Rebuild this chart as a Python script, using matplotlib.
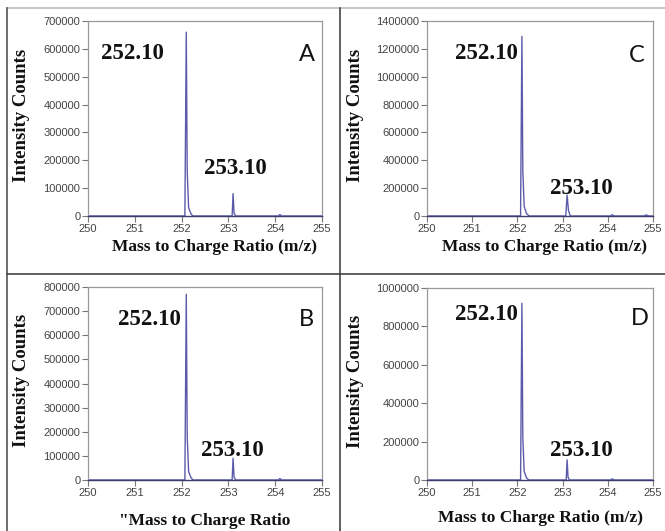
import matplotlib
matplotlib.use("Agg")
import matplotlib.pyplot as plt
from matplotlib.lines import Line2D

# m/z profile points and intensities for each panel
MZ_A = [250.0, 252.07, 252.10, 252.12, 252.15, 252.20, 252.24, 253.08, 253.10, 253.12, 253.15,
        254.06, 254.10, 254.14, 255.0]
INT_A = [0, 0, 660000, 160000, 30000, 8000, 0, 0, 80000, 12000, 0, 0, 5000, 0, 0]

MZ_B = [250.0, 252.07, 252.10, 252.12, 252.15, 252.20, 252.24, 253.08, 253.10, 253.12, 253.15,
        254.06, 254.10, 254.14, 255.0]
INT_B = [0, 0, 770000, 180000, 35000, 10000, 0, 0, 90000, 14000, 0, 0, 6000, 0, 0]

MZ_C = [250.0, 252.07, 252.10, 252.12, 252.15, 252.20, 252.26, 253.07, 253.10, 253.13, 253.17,
        254.06, 254.10, 254.14, 254.80, 254.85, 254.90, 255.0]
INT_C = [0, 0, 1290000, 320000, 70000, 18000, 0, 0, 150000, 40000, 0, 0, 10000, 0, 0, 8000, 0, 0]

MZ_D = [250.0, 252.07, 252.10, 252.12, 252.15, 252.20, 252.25, 253.08, 253.10, 253.12, 253.15,
        254.06, 254.10, 254.14, 255.0]
INT_D = [0, 0, 920000, 220000, 45000, 12000, 0, 0, 105000, 15000, 0, 0, 6000, 0, 0]

Y_MAX = {"A": 700000, "B": 800000, "C": 1400000, "D": 1000000}
Y_STEP = {"A": 100000, "B": 100000, "C": 200000, "D": 200000}
X_TICKS = [250, 251, 252, 253, 254, 255]

MAIN_LABEL = "252.10"
ISO_LABEL = "253.10"
X_LABELS = {
    "A": "Mass to Charge Ratio (m/z)",
    "B": "\"Mass to Charge Ratio",
    "C": "Mass to Charge Ratio (m/z)",
    "D": "Mass to Charge Ratio (m/z)",
}

LINE_COLOR = "#5b5bab"
SERIF = "Liberation Serif"

W, H = 665, 531


def fx(px):
    return px / W


def fy(py):
    return 1 - py / H


# axes boxes in pixels: left, top, right, bottom
BOXES = {
    "A": (88, 21, 322, 216),
    "C": (427, 21, 653, 216),
    "B": (88, 287, 322, 480),
    "D": (427, 288, 653, 480),
}

# label positions in axes fraction
LABEL_POS = {
    "A": ((0.192, 0.835), (0.628, 0.245), (0.935, 0.83)),
    "C": ((0.261, 0.835), (0.681, 0.14), (0.93, 0.825)),
    "B": ((0.261, 0.83), (0.615, 0.155), (0.935, 0.83)),
    "D": ((0.261, 0.86), (0.681, 0.155), (0.94, 0.84)),
}

# (x label centre x, centre y) and y label centre x, in pixels
XLABEL_PX = {"A": (215, 247), "C": (544, 247), "B": (205, 521), "D": (541, 518)}
YLABEL_PX = {"A": 22, "C": 356, "B": 22, "D": 356}

DATA = {"A": (MZ_A, INT_A), "B": (MZ_B, INT_B), "C": (MZ_C, INT_C), "D": (MZ_D, INT_D)}

fig = plt.figure(figsize=(6.65, 5.31), dpi=100)
fig.patch.set_facecolor("white")

for key in ["A", "C", "B", "D"]:
    l, t, r, b = BOXES[key]
    ax = fig.add_axes([fx(l), fy(b), fx(r) - fx(l), fy(t) - fy(b)])
    mz, inten = DATA[key]
    ax.plot(mz, inten, color=LINE_COLOR, lw=1.0)
    ax.set_xlim(250, 255)
    ax.set_ylim(0, Y_MAX[key])
    ax.set_xticks(X_TICKS)
    ax.set_yticks(range(0, Y_MAX[key] + 1, Y_STEP[key]))
    ax.ticklabel_format(style="plain", axis="y", useOffset=False)
    ax.tick_params(direction="out", length=4, width=0.8, color="#777777",
                   labelsize=8, labelcolor="#444444", pad=1.5)
    for lab in ax.get_xticklabels() + ax.get_yticklabels():
        lab.set_family("Liberation Sans")
    for side in ["top", "right", "left"]:
        ax.spines[side].set_color("#999999")
        ax.spines[side].set_linewidth(0.9)
    ax.spines["bottom"].set_color("#3a3a6e")
    ax.spines["bottom"].set_linewidth(1.0)

    (mx, my), (ix, iy), (lx, ly) = LABEL_POS[key]
    ax.text(mx, my, MAIN_LABEL, transform=ax.transAxes, ha="center", va="center",
            family=SERIF, weight="bold", fontsize=16.5, color="#111111")
    ax.text(ix, iy, ISO_LABEL, transform=ax.transAxes, ha="center", va="center",
            family=SERIF, weight="bold", fontsize=16.5, color="#111111")
    ax.text(lx, ly, key, transform=ax.transAxes, ha="center", va="center",
            family="Lato", fontsize=17, color="#111111")

    cx, cy = XLABEL_PX[key]
    fig.text(fx(cx), fy(cy), X_LABELS[key], ha="center", va="center",
             family=SERIF, weight="bold", fontsize=12.5, color="#111111")
    fig.text(fx(YLABEL_PX[key]), (fy(t) + fy(b)) / 2 + 0.005, "Intensity Counts",
             ha="center", va="center", rotation=90,
             family=SERIF, weight="bold", fontsize=13.5, color="#111111")

# panel frame lines
fig.add_artist(Line2D([fx(7), 1], [fy(8), fy(8)], color="#bbbbbb", lw=1.2))
fig.add_artist(Line2D([fx(7), fx(7)], [0, fy(8)], color="#555555", lw=1.2))
fig.add_artist(Line2D([fx(340), fx(340)], [0, fy(8)], color="#444444", lw=1.2))
fig.add_artist(Line2D([fx(7), 1], [fy(274), fy(274)], color="#444444", lw=1.2))

fig.savefig("out.png", dpi=100)
